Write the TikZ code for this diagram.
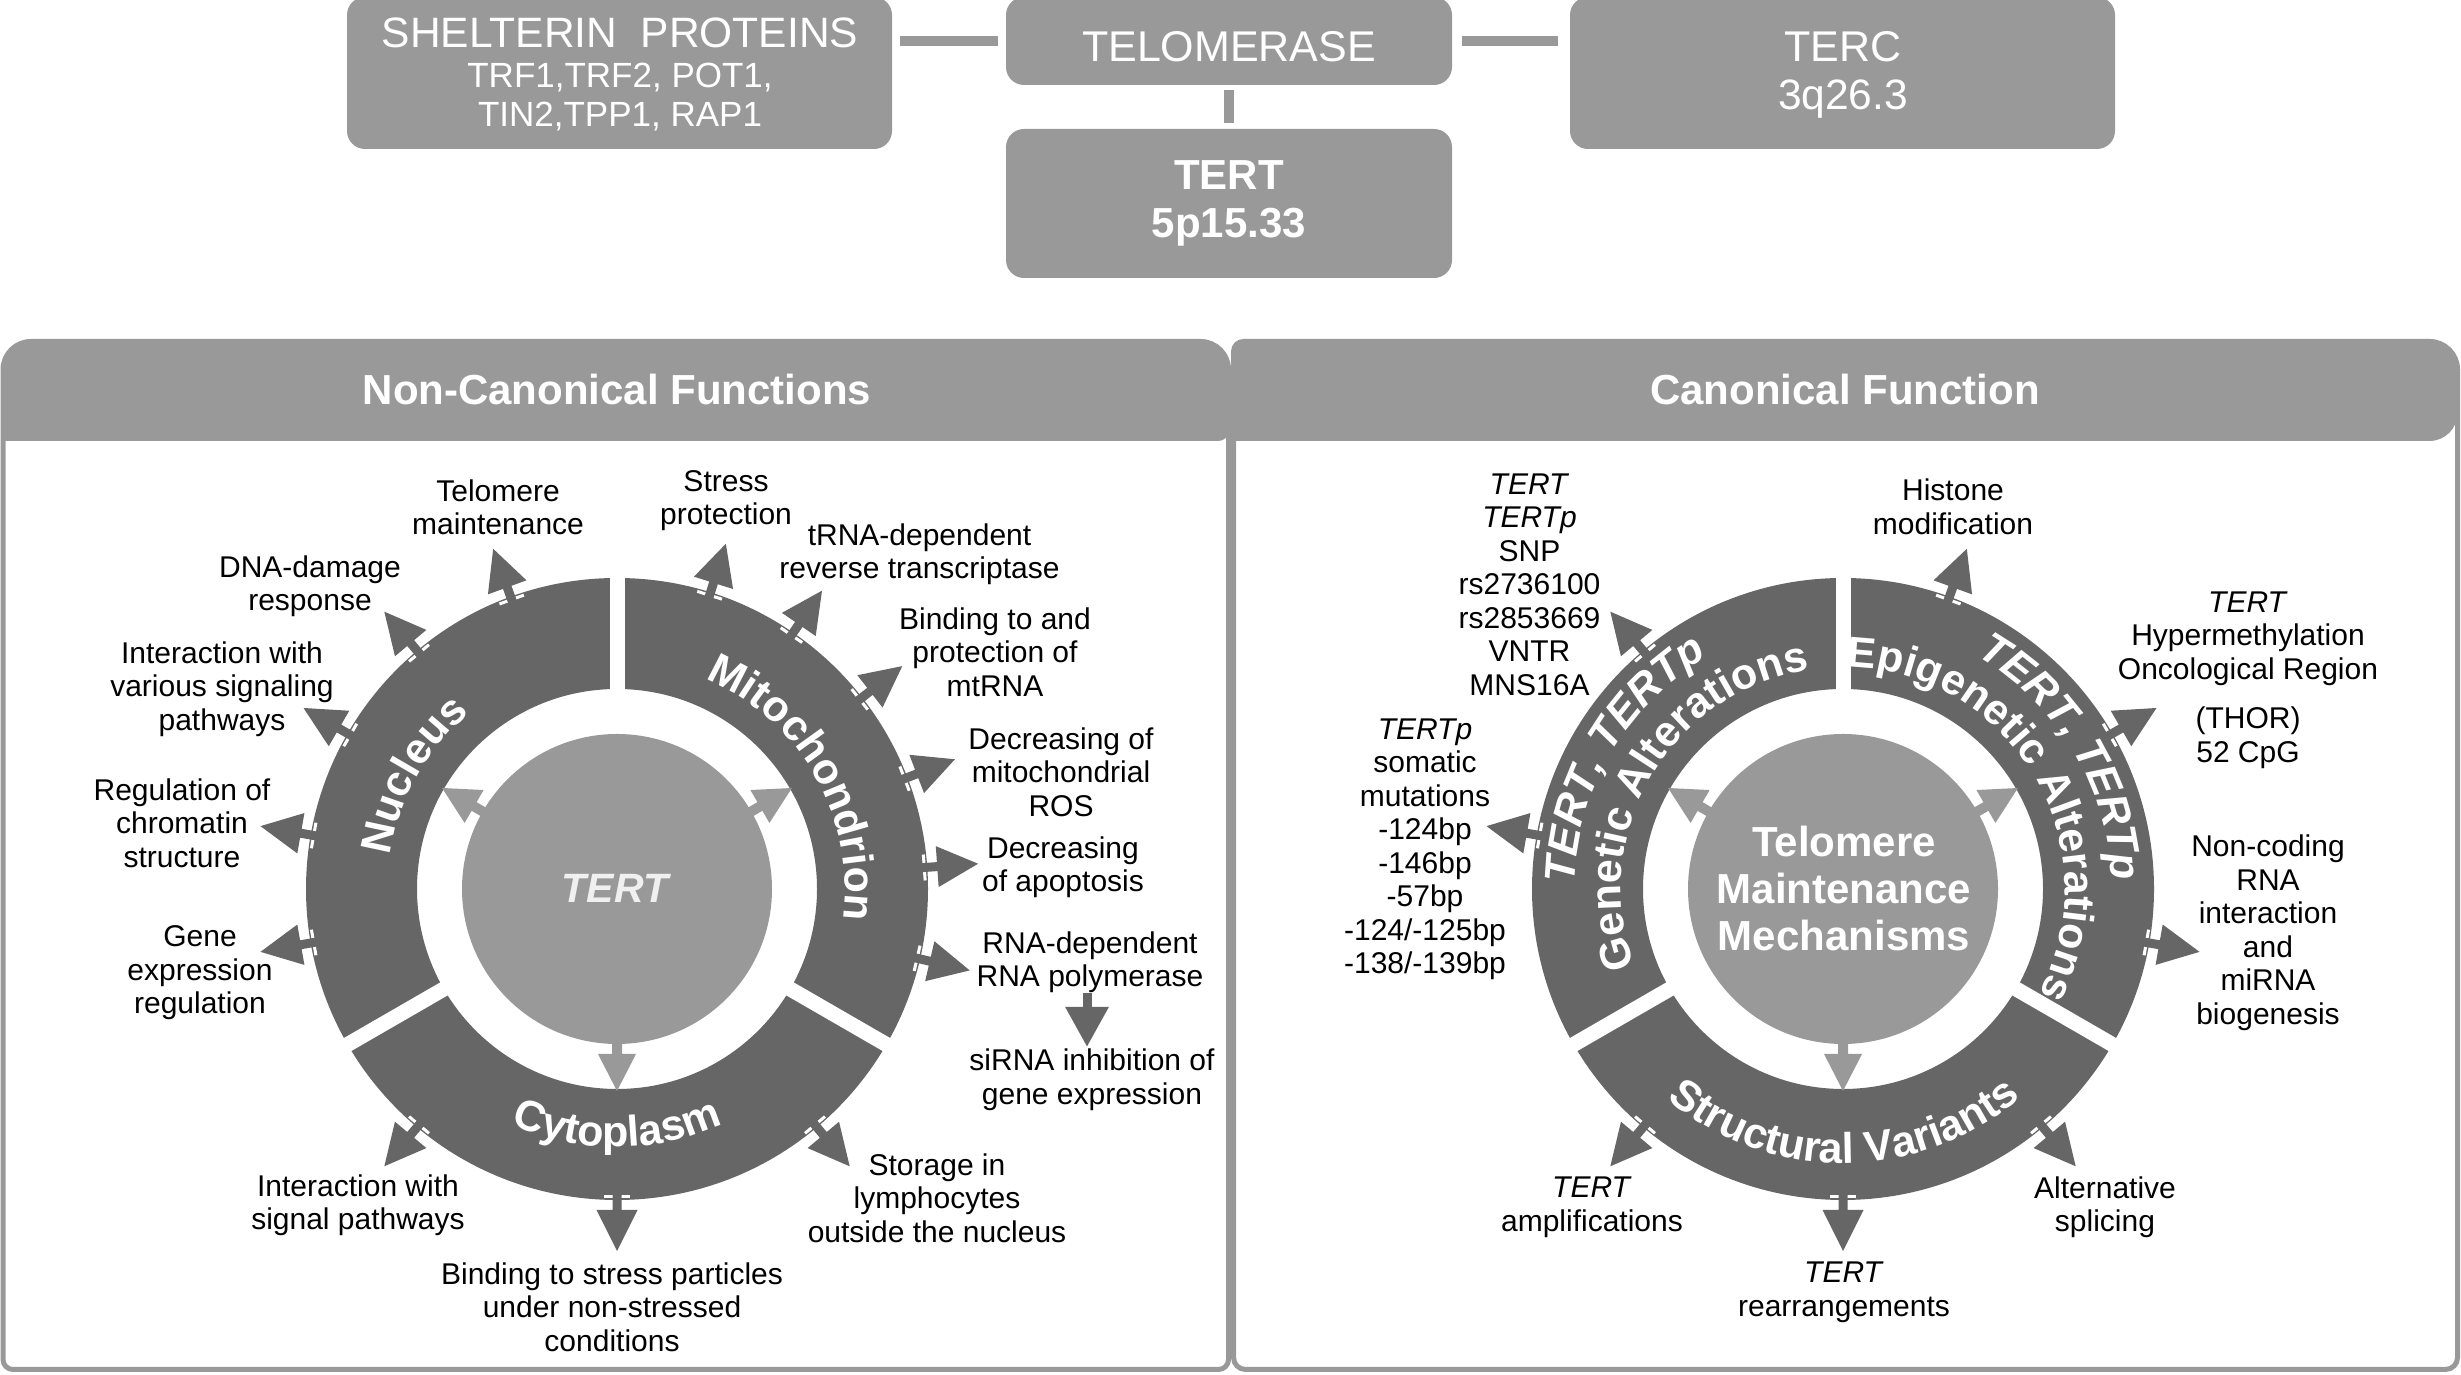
\documentclass[tikz,border=0pt]{standalone}
\usepackage{fontspec}
\setmainfont{Liberation Sans}
\usetikzlibrary{calc,decorations.text,arrows.meta}
\definecolor{boxg}{HTML}{999999}
\definecolor{ringg}{HTML}{666666}
\definecolor{innerg}{HTML}{999999}
\newcommand\ringfont{\bfseries\fontsize{43}{50}\selectfont}
\newcommand\outarr[2]{\begin{scope}[shift={(#1)},rotate=#2]
  \draw[white,line width=3pt] (308,-13) -- (308,13);
  \fill[ringg] (296,-4.5) -- (321,-4.5) -- (321,-20.5) -- (362,0) -- (321,20.5) -- (321,4.5) -- (296,4.5) -- cycle;
\end{scope}}
\newcommand\inarr[2]{\begin{scope}[shift={(#1)},rotate=#2]
  \draw[white,line width=3pt] (157,-12) -- (157,12);
  \fill[innerg] (145,-5) -- (165,-5) -- (165,-19) -- (202,0) -- (165,19) -- (165,5) -- (145,5) -- cycle;
\end{scope}}
\begin{document}
\begin{tikzpicture}[x=1pt,y=1pt,
  lab/.style={font=\fontsize{30}{33.5}\selectfont, align=center, inner sep=0pt},
  conn/.style={draw=boxg, line width=10pt},
  topbox/.style={fill=boxg, rounded corners=18pt, inner sep=0pt},
  toptxt/.style={anchor=base, text=white, inner sep=0pt},
  panelb/.style={draw=boxg, line width=5pt},
  ringtxt/.style={decorate, decoration={text along path, text align=center, text color=white, text={#1}}}
]
\useasboundingbox (0,0) rectangle (2461,1375);
% ---------- top boxes
\node[topbox, minimum width=545pt, minimum height=152pt] (shel) at (619.5,1302) {};
\node[topbox, minimum width=446pt, minimum height=88pt] (telo) at (1229,1334) {};
\node[topbox, minimum width=545pt, minimum height=152pt] (terc) at (1842.5,1302) {};
\node[topbox, minimum width=446pt, minimum height=149pt] (tertbox) at (1229,1171.5) {};
\draw[conn] ($(shel.east |- telo.west)+(8,0)$) -- ($(telo.west)+(-8,0)$);
\draw[conn] ($(telo.east)+(10,0)$) -- ($(terc.west |- telo.east)+(-12,0)$);
\draw[conn] ($(telo.south)+(0,-5)$) -- ($(tertbox.north)+(0,6)$);
\node[toptxt, font=\fontsize{42.5}{45}\selectfont] (shelt1) at (620,1327) {SHELTERIN\ \ PROTEINS};
\node[toptxt, font=\fontsize{35}{40}\selectfont] (shelt2) at (620,1287) {TRF1,TRF2, POT1,};
\node[toptxt, font=\fontsize{35}{40}\selectfont] (shelt3) at (620,1248) {TIN2,TPP1, RAP1};
\node[toptxt, font=\fontsize{43}{45}\selectfont] (telot) at (1229,1313) {TELOMERASE};
\node[toptxt, font=\fontsize{43}{45}\selectfont] (terct1) at (1843,1313) {TERC};
\node[toptxt, font=\fontsize{42.5}{45}\selectfont] (terct2) at (1843,1265) {3q26.3};
\node[toptxt, font=\bfseries\fontsize{42}{45}\selectfont] (tertt1) at (1229,1185) {TERT};
\node[toptxt, font=\bfseries\fontsize{42}{45}\selectfont] (tertt2) at (1229,1137) {5p15.33};
% ---------- panels
\fill[boxg] (3,934) [rounded corners=28pt] -- (3,1033.5) -- (1228.5,1033.5) [rounded corners=10pt] -- (1228.5,934) [sharp corners] -- cycle;
\draw[panelb] (3,500) [rounded corners=28pt] -- (3,1033.5) -- (1228.5,1033.5) [rounded corners=10pt] -- (1228.5,5.5) -- (3,5.5) [rounded corners=12pt] -- cycle;
\fill[boxg] (1233.5,934) [rounded corners=10pt] -- (1233.5,1033.5) [rounded corners=28pt] -- (2457.5,1033.5) -- (2457.5,934) [sharp corners] -- cycle;
\draw[panelb] (1233.5,500) [rounded corners=10pt] -- (1233.5,1033.5) [rounded corners=28pt] -- (2457.5,1033.5) [rounded corners=12pt] -- (2457.5,5.5) -- (1233.5,5.5) [rounded corners=10pt] -- cycle;
\node[anchor=base, text=white, font=\bfseries\fontsize{42}{45}\selectfont] (h1) at (617,970) {Non-Canonical Functions};
\node[anchor=base, text=white, font=\bfseries\fontsize{42}{45}\selectfont] (h2) at (1845,970) {Canonical Function};
% ---------- circles
\coordinate (C1) at (617,486);
\coordinate (C2) at (1843,486);
\foreach \c in {C1,C2}{
  \fill[ringg, even odd rule] (\c) circle[radius=311] (\c) circle[radius=200];
  \foreach \a in {90,210,330} \draw[white, line width=15pt] ($(\c)+(\a:192)$) -- ($(\c)+(\a:322)$);
  \fill[innerg] (\c) circle[radius=155];
  \foreach \a in {150,30,270} \inarr{\c}{\a};
}
\foreach \a in {110,130,150,170,190,72.5,55.5,38,21,4,-13,230,270,310} \outarr{C1}{\a};
\foreach \a in {130,170,70,30,-10,230,270,310} \outarr{C2}{\a};
% ---------- ring texts, circle 1
\path[ringtxt={|\ringfont|Nucleus}] ($(C1)+(230.8:229.5)$) arc[start angle=230.8, end angle=70.8, radius=229.5];
\path[ringtxt={|\ringfont|Mitochondrion}] ($(C1)+(109.8:228)$) arc[start angle=109.8, end angle=-50.2, radius=228];
\path[ringtxt={|\ringfont|Cytoplasm}] ($(C1)+(190:258)$) arc[start angle=190, end angle=350, radius=258];
% ---------- ring texts, circle 2
\path[ringtxt={|\ringfont\itshape|TERT, TERTp}] ($(C2)+(229.5:268.5)$) arc[start angle=229.5, end angle=69.5, radius=268.5];
\path[ringtxt={|\ringfont|Genetic Alterations}] ($(C2)+(229.5:222)$) arc[start angle=229.5, end angle=69.5, radius=222];
\path[ringtxt={|\ringfont\itshape|TERT, TERTp}] ($(C2)+(111:268.5)$) arc[start angle=111, end angle=-49, radius=268.5];
\path[ringtxt={|\ringfont|Epigenetic Alterations}] ($(C2)+(110.4:222)$) arc[start angle=110.4, end angle=-49.6, radius=222];
\path[ringtxt={|\ringfont|Structural Variants}] ($(C2)+(190.2:274)$) arc[start angle=190.2, end angle=350.2, radius=274];
% ---------- centre texts
\node[text=white!94!black, font=\bfseries\itshape\fontsize{41}{45}\selectfont] (tertc) at (615,487) {TERT};
\node[text=white, font=\bfseries\fontsize{42}{47}\selectfont, align=center] (tmm) at (1844,487) {Telomere\\Maintenance\\Mechanisms};
% ---------- labels circle 1
\node[lab] (l1) at (498,867.5) {Telomere\\maintenance};
\node[lab] (l2) at (310,788.5) {DNA-damage\\response};
\node[lab] (l3) at (222,686) {Interaction with\\various signaling\\pathways};
\node[lab] (l4) at (182,552) {Regulation of\\chromatin\\structure};
\node[lab] (l5) at (200,402) {Gene\\expression\\regulation};
\node[lab] (l6) at (726,874.5) {Stress\\protection};
\node[lab] (l7) at (919.5,820.5) {tRNA-dependent\\reverse transcriptase};
\node[lab] (l8) at (995,723) {Binding to and\\protection of\\mtRNA};
\node[lab] (l9) at (1061,603) {Decreasing of\\mitochondrial\\ROS};
\node[lab] (l10) at (1063,507.7) {Decreasing\\of apoptosis};
\node[lab] (l11) at (1090,412.5) {RNA-dependent\\RNA polymerase};
\node[lab] (l12) at (1092,295) {siRNA inhibition of\\gene expression};
\node[lab] (l13) at (358,169.5) {Interaction with\\signal pathways};
\node[lab] (l14) at (612,68) {Binding to stress particles\\under non-stressed\\conditions};
\node[lab] (l15) at (937,177) {Storage in\\lymphocytes\\outside the nucleus};
\draw[ringg, line width=9pt, -{Triangle[width=41pt,length=40pt]}] (l11.south -| 1087,0) -- (1087,328);
% ---------- labels circle 2
\node[lab] (m1) at (1529.5,790.3) {\textit{TERT}\\\textit{TERTp}\\SNP\\rs2736100\\rs2853669\\VNTR\\MNS16A};
\node[lab] (m2) at (1425,525.6) {\textit{TERTp}\\somatic\\mutations\\-124bp\\-146bp\\-57bp\\-124/-125bp\\-138/-139bp};
\node[lab] (m3) at (1953,868.4) {Histone\\modification};
\node[lab] (m4) at (2248,736.4) {\textit{TERT}\\Hypermethylation\\Oncological Region};
\node[lab] (m5) at (2248,637.2) {(THOR)\\52 CpG};
\node[lab] (m6) at (2268,442) {Non-coding\\RNA\\interaction\\and\\miRNA\\biogenesis};
\node[lab] (m7) at (1592,167.5) {\textit{TERT}\\amplifications};
\node[lab] (m8) at (1844,82.5) {\textit{TERT}\\rearrangements};
\node[lab] (m9) at (2105,167.5) {Alternative\\splicing};
\end{tikzpicture}
\end{document}
